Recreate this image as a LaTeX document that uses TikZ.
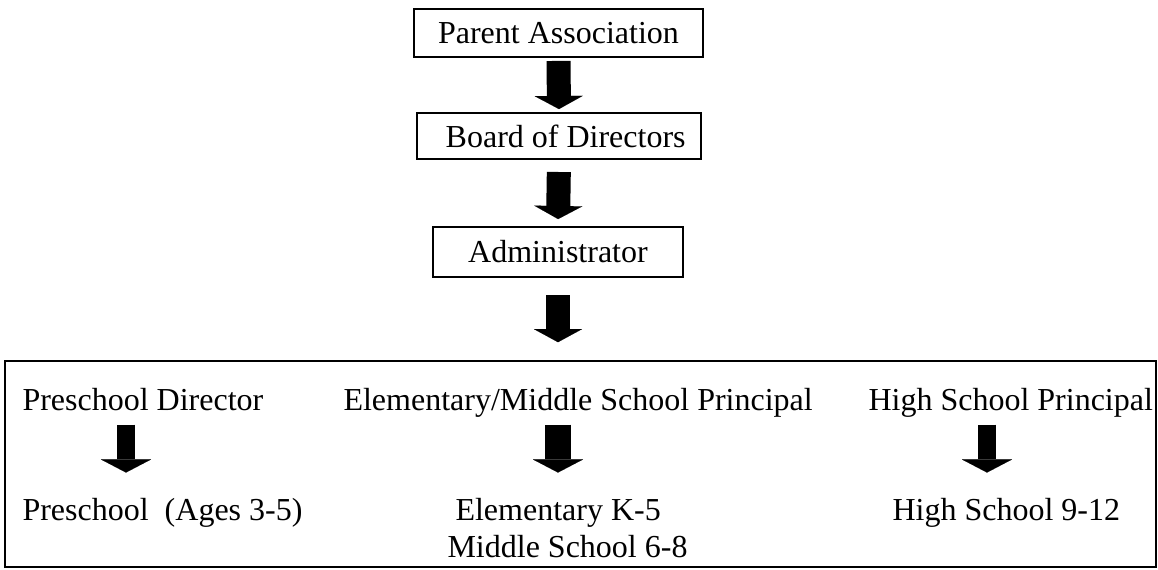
\documentclass[tikz,border=0pt]{standalone}
\usepackage{fontspec}
\setmainfont{Liberation Serif}
\usetikzlibrary{arrows.meta}

\begin{document}
\begin{tikzpicture}[x=0.375pt, y=-0.375pt,
    every node/.style={font=\fontsize{12pt}{14pt}\selectfont, inner sep=0pt},
    box/.style={draw, line width=0.75pt, align=center},
    txt/.style={text height=9pt, text depth=3pt},
    bigarrow/.style={line width=9pt, -{Triangle[width=18pt,length=4.9pt,line width=0.01pt]}},
    smallarrow/.style={line width=6.4pt, -{Triangle[width=18.75pt,length=4.9pt,line width=0.01pt]}},
    midarrow/.style={line width=9.4pt, -{Triangle[width=18.75pt,length=4.9pt,line width=0.01pt]}}]
    \useasboundingbox (0,0) rectangle (1158,569);

    % chain of boxes
    \node[box, minimum width=108.4pt, minimum height=18pt] (pa) at (558.5,33) {Parent Association};
    \node[box, minimum width=106.5pt, minimum height=17.25pt] (bod) at (559,136) {\hspace*{5pt}Board of Directors};
    \node[box, minimum width=93.75pt, minimum height=18.75pt] (adm) at (558,252) {Administrator};
    \node[box, line width=0.6pt, minimum width=431.6pt, minimum height=77.25pt] (grp) at (580.5,464) {};

    \draw[bigarrow, shorten <=1.1pt, shorten >=1.1pt] (pa.south) -- (bod.north);
    \draw[bigarrow, shorten <=4.5pt, shorten >=2.6pt] (bod.south) -- (adm.north);
    \draw[bigarrow, shorten <=6.4pt, shorten >=6.75pt] (adm.south) -- (adm.south |- grp.north);

    % the three schools
    \coordinate (colL) at (126,0);
    \coordinate (colM) at (558,0);
    \coordinate (colR) at (987,0);

    \node[txt, anchor=base west] (psd) at (22,410) {Preschool Director};
    \node[txt, anchor=base west] (ps) at (22,520) {Preschool\ \ (Ages 3-5)};
    \node[txt, anchor=base west] (emsp) at (343,410) {Elementary/Middle School Principal};
    \node[txt, anchor=base west] (ek) at (455,520) {Elementary K-5};
    \node[txt, anchor=base west] (ms) at (447,557) {Middle School 6-8};
    \node[txt, anchor=base west] (hsp) at (868,410) {High School Principal};
    \node[txt, anchor=base west] (hs) at (892,520) {High School 9-12};

    \draw[smallarrow, shorten <=2.25pt, shorten >=8.6pt] (psd.south -| colL) -- (ps.north -| colL);
    \draw[midarrow, shorten <=2.25pt, shorten >=8.6pt] (emsp.south -| colM) -- (ek.north -| colM);
    \draw[smallarrow, shorten <=2.25pt, shorten >=8.6pt] (hsp.south -| colR) -- (hs.north -| colR);
\end{tikzpicture}
\end{document}
